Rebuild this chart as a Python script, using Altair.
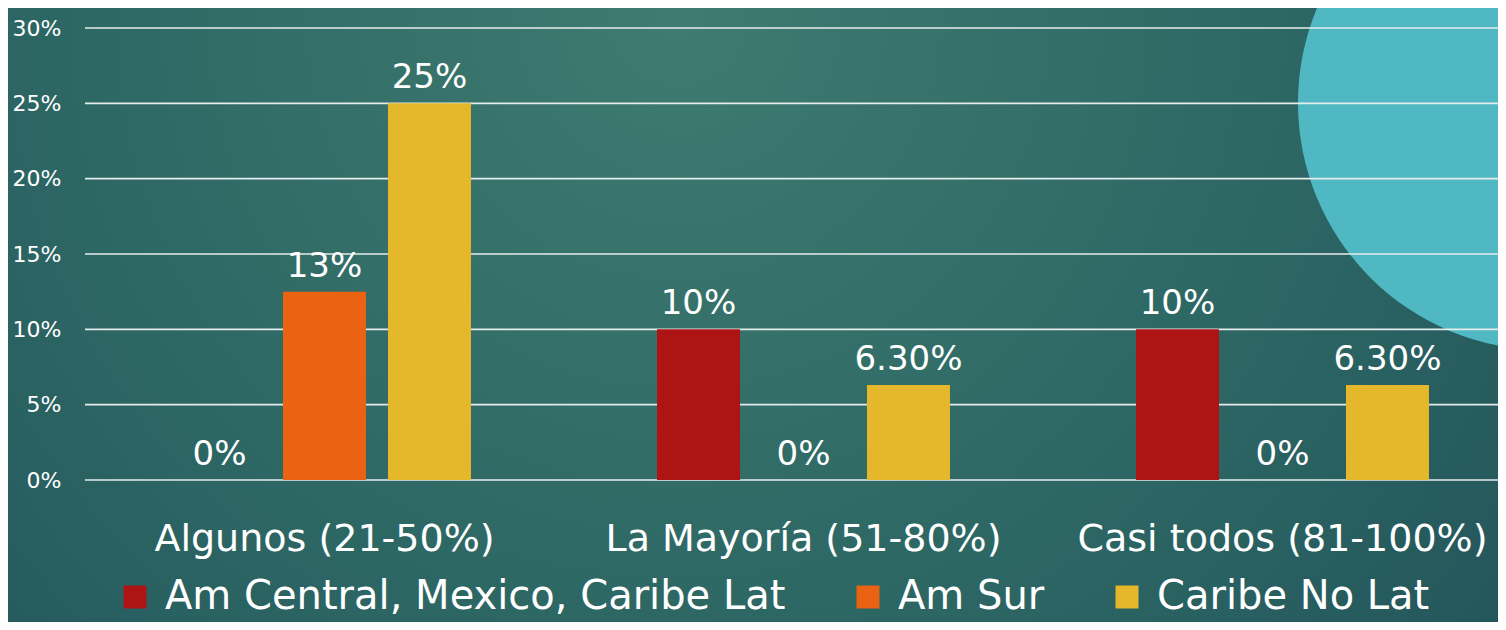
import altair as alt
import pandas as pd

groups = ["Algunos (21-50%)", "La Mayoría (51-80%)", "Casi todos (81-100%)"]
series = ["Am Central, Mexico, Caribe Lat", "Am Sur", "Caribe No Lat"]
colors = ["#AE1414", "#E96312", "#E5B72A"]
values = [
    [0.0, 0.125, 0.25],
    [0.10, 0.0, 0.063],
    [0.10, 0.0, 0.063],
]
labels = [
    ["0%", "13%", "25%"],
    ["10%", "0%", "6.30%"],
    ["10%", "0%", "6.30%"],
]
y_ticks = [0.0, 0.05, 0.10, 0.15, 0.20, 0.25, 0.30]

rows = []
for gi, g in enumerate(groups):
    for si, s in enumerate(series):
        rows.append({"group": g, "series": s, "value": values[gi][si], "label": labels[gi][si]})
df = pd.DataFrame(rows)

FONT = "DejaVu Sans"
BG = "#22535A"

y_scale = alt.Scale(domain=[0, 0.30], nice=False)
x_enc = alt.X(
    "group:N", sort=groups, title=None,
    scale=alt.Scale(range=[0, 1437], paddingInner=0, paddingOuter=0),
    axis=alt.Axis(labelFontSize=38, labelColor="white", labelPadding=40, domain=False,
                  ticks=False, grid=False, labelLimit=1000, labelAngle=0, zindex=2),
)
xoff_enc = alt.XOffset("series:N", sort=series,
                       scale=alt.Scale(paddingInner=0.2095, paddingOuter=0.886))

backdrop = alt.Chart(pd.DataFrame({"d": [0]})).mark_rect(
    color={
        "gradient": "radial",
        "x1": 0.45, "y1": 0.3, "r1": 0,
        "x2": 0.45, "y2": 0.3, "r2": 0.75,
        "stops": [
            {"offset": 0, "color": "#3E7B70"},
            {"offset": 0.55, "color": "#2D6764"},
            {"offset": 1, "color": BG},
        ],
    }
).encode(x=alt.value(-77), x2=alt.value(1413), y=alt.value(-20), y2=alt.value(594))

circle = alt.Chart(pd.DataFrame({"d": [0]})).mark_point(
    shape="circle", filled=True, size=494 * 494, color="#50B8C2", opacity=1, strokeWidth=0
).encode(x=alt.value(1460), y=alt.value(75))

grid = alt.Chart(pd.DataFrame({"t": y_ticks})).mark_rule(
    color="#E4ECEC", strokeWidth=1.6
).encode(
    y=alt.Y("t:Q", scale=y_scale, title=None,
            axis=alt.Axis(format="%", labelFontSize=22, labelColor="white", labelPadding=24,
                          domain=False, ticks=False, grid=False, values=y_ticks, zindex=2))
)

bars = alt.Chart(df).mark_bar().encode(
    x=x_enc,
    xOffset=xoff_enc,
    y=alt.Y("value:Q", scale=y_scale),
    color=alt.Color(
        "series:N", sort=series,
        scale=alt.Scale(domain=series, range=colors),
        legend=alt.Legend(orient="none", legendX=30, legendY=549, direction="horizontal",
                          title=None, symbolType="square", symbolSize=529,
                          symbolStrokeWidth=0, symbolOpacity=1,
                          labelFontSize=40, labelColor="white", labelOffset=10,
                          columnPadding=62, labelLimit=1000, zindex=2),
    ),
)

text = alt.Chart(df).mark_text(
    fontSize=34, color="white", baseline="alphabetic", dy=-15
).encode(
    x=x_enc,
    xOffset=xoff_enc,
    y=alt.Y("value:Q", scale=y_scale),
    text="label:N",
)

chart = alt.layer(backdrop, circle, grid, bars, text).properties(
    width=1413, height=452,
    autosize=alt.AutoSizeParams(type="none"),
    padding={"left": 77, "top": 20, "right": 0, "bottom": 142},
    background=BG,
).configure(font=FONT).configure_view(stroke=None)

chart.save("out.html", embed_options={"renderer": "svg", "actions": False})
